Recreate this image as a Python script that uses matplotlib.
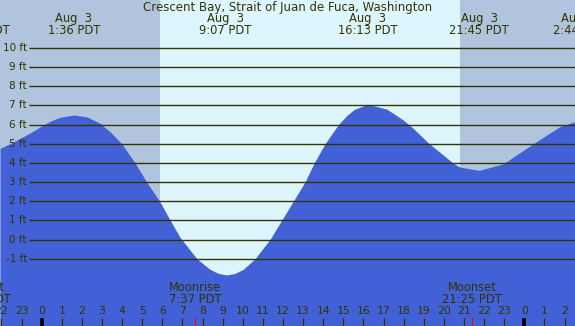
import matplotlib
matplotlib.use('Agg')
import matplotlib.pyplot as plt
import matplotlib.transforms as mtransforms

# tide heights (ft), hours relative to midnight Aug 3
tide_hours = [-2.07, -1.58, -1.08, -0.58, -0.08, 0.12, 0.41, 0.91, 1.6, 2.26,
              2.90, 3.40, 3.98, 4.64, 5.22, 5.88, 6.38, 6.88, 7.71, 8.37,
              8.78, 9.2, 9.61, 10.02, 10.61, 11.35, 11.93, 12.51, 13.09, 13.55,
              14.09, 14.75, 15.2, 15.55, 16.22, 17.16, 17.98, 18.48, 19.22, 20.47,
              20.8, 21.75, 22.95, 24.44, 25.77, 26.52]
tide_ft = [4.76, 5.0, 5.28, 5.56, 5.88, 6.0, 6.17, 6.38, 6.5, 6.4,
           6.07, 5.63, 5.0, 4.0, 3.0, 1.97, 1.02, 0.11, -1.0, -1.56,
           -1.77, -1.85, -1.77, -1.56, -1.0, 0.0, 1.0, 2.0, 3.0, 4.0,
           5.0, 6.0, 6.5, 6.8, 7.06, 6.81, 6.24, 5.8, 5.05, 3.98,
           3.78, 3.61, 3.95, 5.0, 5.9, 6.15]

# high / low labels at the top
extreme_hours = [-3.07, 1.6, 9.117, 16.217, 21.75, 26.733]
extreme_days = ['Aug  2', 'Aug  3', 'Aug  3', 'Aug  3', 'Aug  3', 'Aug  4']
extreme_times = ['20:56 PDT', '1:36 PDT', '9:07 PDT', '16:13 PDT', '21:45 PDT', '2:44 PDT']

sunrise = 5.89
sunset = 20.80
moon_hours = [-3.03, 7.617, 21.417]
moon_names = ['Moonset', 'Moonrise', 'Moonset']
moon_times = ['20:58 PDT', '7:37 PDT', '21:25 PDT']

ft_levels = list(range(-1, 11))
hour_ticks = list(range(-2, 27))

title = 'Crescent Bay, Strait of Juan de Fuca, Washington'

night_col = '#b0c4de'
day_col = '#ddf6fe'
water_col = '#4261d6'
ink = '#333300'

W, H = 575, 326
xlim_l, xlim_r = -2.074, 26.52
ylim_b, ylim_t = -4.517, 12.507

fig = plt.figure(figsize=(W / 100, H / 100), dpi=100)
ax = fig.add_axes([0, 0, 1, 1])
ax.set_xlim(xlim_l, xlim_r)
ax.set_ylim(ylim_b, ylim_t)
ax.axis('off')

def fy(py):
    # pixel row -> axes fraction
    return 1 - py / H

# day / night background
ax.axvspan(xlim_l, sunrise, color=night_col, lw=0, zorder=0)
ax.axvspan(sunrise, sunset, color=day_col, lw=0, zorder=0)
ax.axvspan(sunset, xlim_r, color=night_col, lw=0, zorder=0)

# water
ax.fill_between(tide_hours, tide_ft, ylim_b, color=water_col, lw=0, zorder=1)

# ft grid lines and labels
ylab_tr = mtransforms.blended_transform_factory(ax.transAxes, ax.transData)
for v in ft_levels:
    ax.plot([29 / W, 1], [v, v], color=ink, lw=1.0, transform=ylab_tr, zorder=2,
            solid_capstyle='butt')
    ax.text(27 / W, v, '%d ft' % v, transform=ylab_tr, ha='right', va='center',
            fontsize=7.5, color=ink, zorder=3)

xtr = mtransforms.blended_transform_factory(ax.transData, ax.transAxes)
big = 8.3

# title and extreme labels
ax.text(0.5, fy(8), title, transform=ax.transAxes, ha='center', va='center',
        fontsize=8.5, color=ink, zorder=3)
for h, d, t in zip(extreme_hours, extreme_days, extreme_times):
    ax.text(h, fy(18.5), d, transform=xtr, ha='center', va='center',
            fontsize=big, color=ink, zorder=3, clip_on=False)
    ax.text(h, fy(31), t, transform=xtr, ha='center', va='center',
            fontsize=big, color=ink, zorder=3, clip_on=False)

# moon labels
for h, n, t in zip(moon_hours, moon_names, moon_times):
    ax.text(h, fy(287.5), n, transform=xtr, ha='center', va='center',
            fontsize=big, color=ink, zorder=3, clip_on=False)
    ax.text(h, fy(299.5), t, transform=xtr, ha='center', va='center',
            fontsize=big, color=ink, zorder=3, clip_on=False)
    if xlim_l < h < xlim_r:
        ax.plot([h, h], [0, fy(318)], color='red', lw=0.8, transform=xtr, zorder=4)

# hour ticks
for h in hour_ticks:
    lw = 2.6 if h % 24 == 0 else 0.9
    ax.plot([h, h], [0, fy(318)], color=ink if h % 24 else 'black', lw=lw,
            transform=xtr, zorder=3, solid_capstyle='butt')
    ax.text(h, fy(311), str(h % 24), transform=xtr, ha='center', va='center',
            fontsize=7.8, color=ink, zorder=3, clip_on=False)

fig.savefig('out.png', dpi=100)
